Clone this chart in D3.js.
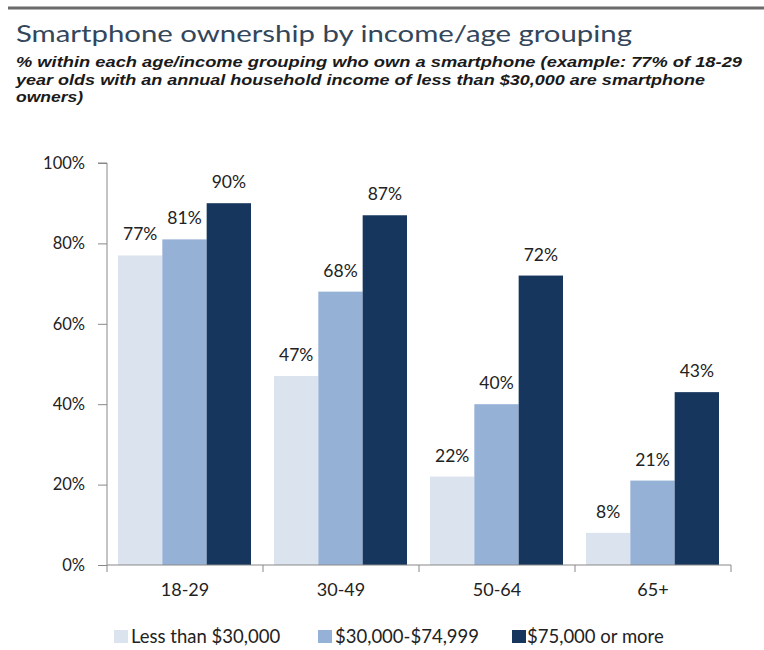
<!DOCTYPE html>
<html><head><meta charset="utf-8">
<script src="https://cdn.jsdelivr.net/npm/d3@7"></script>
<style>
body{margin:0;background:#fff;}
svg text{font-family:Lato, "Open Sans", sans-serif;}
</style></head>
<body><svg id="c" width="764" height="650"></svg>
<script>
const categories = ["18-29","30-49","50-64","65+"];
const seriesNames = ["Less than $30,000","$30,000-$74,999","$75,000 or more"];
const lessThan30k = [77,47,22,8];
const from30kTo75k = [81,68,40,21];
const over75k = [90,87,72,43];
const yTicks = [0,20,40,60,80,100];
const colors = ["#dbe3ef","#95b1d6","#17365e"];
const seriesValues = [lessThan30k, from30kTo75k, over75k];

const svg = d3.select("#c");
// top rule
svg.append("line").attr("x1",8).attr("x2",764).attr("y1",8).attr("y2",8)
  .attr("stroke","#6b6b6b").attr("stroke-width",3);

svg.append("text").attr("x",16).attr("y",42).attr("fill","#34465a")
  .style("font-size","23px")
  .attr("textLength",616).attr("lengthAdjust","spacingAndGlyphs")
  .text("Smartphone ownership by income/age grouping");
const sub = ["% within each age/income grouping who own a smartphone (example: 77% of 18-29",
  "year olds with an annual household income of less than $30,000 are smartphone",
  "owners)"];
const subLen = [726, 689, 67];
sub.forEach((s,i)=>svg.append("text").attr("x",16).attr("y",67+i*17.5)
  .attr("fill","#1a1a1a").style("font-family","'Liberation Sans', Arial, sans-serif")
  .style("font-size","14.8px").style("font-style","italic").style("font-weight","700")
  .attr("textLength",subLen[i]).attr("lengthAdjust","spacingAndGlyphs").text(s));

const x0 = 107, x1 = 731, yTop = 163, yBot = 565;
const x = d3.scaleBand().domain(categories).range([x0,x1]).paddingInner(0).paddingOuter(0);
const y = d3.scaleLinear().domain([0,100]).range([yBot,yTop]);
const xs = d3.scaleBand().domain(d3.range(3)).range([11, x.bandwidth()-12]).padding(0);

const data = [];
categories.forEach((c,ci)=>seriesValues.forEach((vals,si)=>data.push({c,si,v:vals[ci]})));

const g = svg.append("g");
g.selectAll("rect").data(data).join("rect")
  .attr("x",d=>x(d.c)+xs(d.si)).attr("width",xs.bandwidth())
  .attr("y",d=>y(d.v)).attr("height",d=>y(0)-y(d.v))
  .attr("fill",d=>colors[d.si]);
g.selectAll("text.lbl").data(data).join("text").attr("class","lbl")
  .attr("x",d=>x(d.c)+xs(d.si)+xs.bandwidth()/2).attr("y",d=>y(d.v)-15)
  .attr("text-anchor","middle").attr("fill","#222").style("font-size","17.5px")
  .text(d=>d.v+"%");

// y axis
const ya = svg.append("g").attr("transform",`translate(${x0},0)`)
  .call(d3.axisLeft(y).tickValues(yTicks).tickFormat(d=>d+"%").tickSize(9).tickPadding(13));
ya.select(".domain").attr("stroke","#888").attr("d",`M-9,${yTop}H0V${yBot}`);
ya.selectAll(".tick line").attr("stroke","#888");
ya.selectAll(".tick text").attr("fill","#222").style("font-size","16.5px").style("font-family","Lato, sans-serif");

// x axis
const xa = svg.append("g").attr("transform",`translate(0,${yBot})`)
  .call(d3.axisBottom(x).tickSize(0).tickPadding(18));
xa.select(".domain").attr("stroke","#888").attr("d",`M${x0},0H${x1}`);
xa.selectAll(".tick text").attr("fill","#222").style("font-size","18px").style("font-family","Lato, sans-serif");
const bounds = d3.range(categories.length+1).map(i=>x0+i*x.bandwidth());
xa.selectAll("line.sep").data(bounds).join("line").attr("class","sep")
  .attr("x1",d=>d).attr("x2",d=>d).attr("y1",0).attr("y2",7).attr("stroke","#888");

// legend
const legX = [114,318,512];
const lg = svg.append("g").selectAll("g").data(seriesNames).join("g")
  .attr("transform",(d,i)=>`translate(${legX[i]},643)`);
lg.append("rect").attr("x",0).attr("y",-13).attr("width",14).attr("height",13).attr("fill",(d,i)=>colors[i]);
lg.append("text").attr("x",(d,i)=>i===2?15:17).attr("y",0).attr("fill","#222").style("font-size","18.5px").text(d=>d);
</script></body></html>
